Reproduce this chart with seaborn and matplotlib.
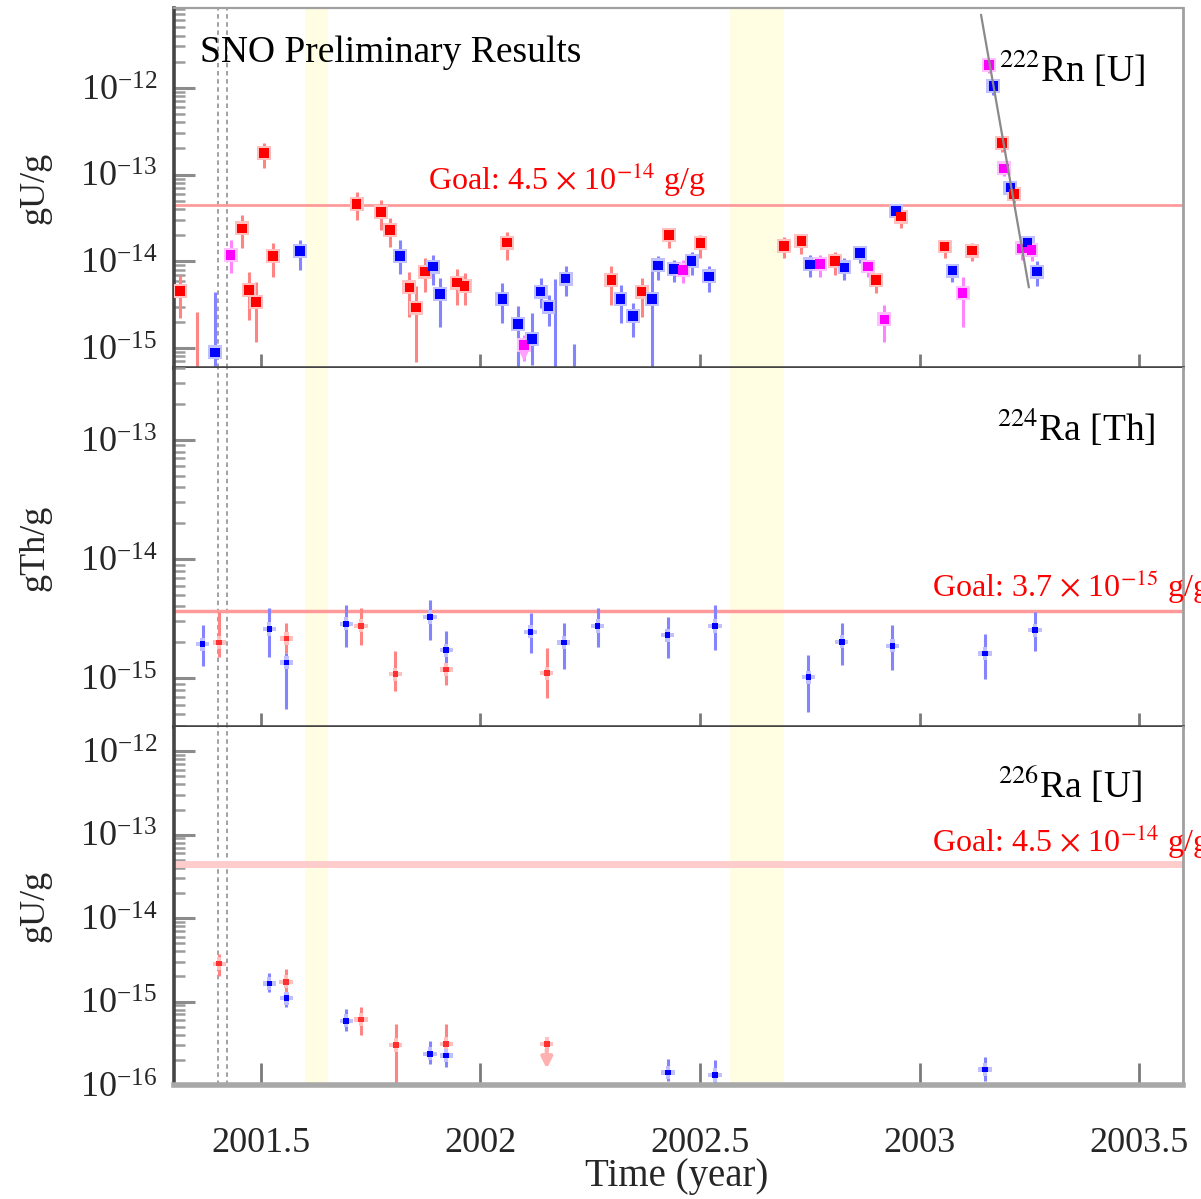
import numpy as np
import pandas as pd
import matplotlib
matplotlib.use("Agg")
import matplotlib.pyplot as plt
import seaborn as sns
from matplotlib.ticker import LogLocator, LogFormatterSciNotation, NullFormatter, FixedLocator

# ---------------- data ----------------
# 222Rn [U] panel
rn_year = [2001.316, 2001.354, 2001.395, 2001.431, 2001.457, 2001.473, 2001.489, 2001.507,
           2001.527, 2001.589, 2001.718, 2001.774, 2001.794, 2001.817, 2001.838, 2001.853,
           2001.873, 2001.892, 2001.908, 2001.947, 2001.964,
           2002.050, 2002.060, 2002.085, 2002.099, 2002.118, 2002.137, 2002.155, 2002.170,
           2002.194, 2002.213, 2002.298, 2002.319, 2002.347, 2002.367, 2002.390, 2002.404,
           2002.429, 2002.441, 2002.461, 2002.481, 2002.501, 2002.521,
           2002.691, 2002.731, 2002.751, 2002.773, 2002.808, 2002.829, 2002.864, 2002.883,
           2002.901, 2002.920, 2002.946, 2002.958, 2003.057, 2003.075, 2003.098, 2003.120,
           2003.158, 2003.168, 2003.188, 2003.193, 2003.207, 2003.215, 2003.233, 2003.246,
           2003.255, 2003.268]
rn_val = [4.58e-15, 3.0e-16, 8.91e-16, 1.18e-14, 2.40e-14, 4.68e-15, 3.42e-15, 1.76e-13,
          1.15e-14, 1.32e-14, 4.55e-14, 3.68e-14, 2.30e-14, 1.16e-14, 5.01e-15, 2.92e-15,
          7.60e-15, 8.67e-15, 4.20e-15, 5.68e-15, 5.19e-15,
          3.67e-15, 1.64e-14, 1.89e-15, 1.08e-15, 1.28e-15, 4.47e-15, 3.00e-15, 3.0e-16,
          6.31e-15, 3.0e-16, 6.10e-15, 3.67e-15, 2.34e-15, 4.47e-15, 3.67e-15, 8.99e-15,
          2.00e-14, 8.17e-15, 7.94e-15, 1.00e-14, 1.62e-14, 6.71e-15,
          1.51e-14, 1.72e-14, 9.23e-15, 9.33e-15, 1.00e-14, 8.51e-15, 1.24e-14, 8.71e-15,
          6.10e-15, 2.14e-15, 3.81e-14, 3.27e-14, 1.48e-14, 7.80e-15, 4.28e-15, 1.33e-14,
          1.84e-12, 1.05e-12, 2.30e-13, 1.18e-13, 7.08e-14, 5.93e-14, 1.41e-14, 1.64e-14,
          1.35e-14, 7.60e-15]
rn_lo = [2.24e-15, 3.0e-16, 3.0e-16, 7.41e-15, 1.41e-14, 2.09e-15, 1.18e-15, 1.19e-13,
         6.65e-15, 7.94e-15, 3.00e-14, 2.29e-14, 1.48e-14, 7.08e-15, 2.29e-15, 6.92e-16,
         4.47e-15, 5.37e-15, 1.76e-15, 3.16e-15, 3.16e-15,
         1.93e-15, 1.04e-14, 6.03e-16, 7.08e-16, 6.31e-16, 2.88e-15, 1.78e-15, 3.0e-16,
         3.98e-15, 3.0e-16, 3.16e-15, 1.95e-15, 1.35e-15, 2.29e-15, 6.03e-16, 6.10e-15,
         1.41e-14, 5.82e-15, 5.62e-15, 6.92e-15, 1.08e-14, 4.47e-15,
         1.08e-14, 1.23e-14, 6.61e-15, 6.61e-15, 6.92e-15, 6.10e-15, 9.55e-15, 6.65e-15,
         4.32e-15, 1.18e-15, 3.00e-14, 2.40e-14, 1.08e-14, 5.82e-15, 1.76e-15, 1.00e-14,
         1.48e-12, 8.32e-13, 1.84e-13, 9.55e-14, 6.03e-14, 4.68e-14, 1.04e-14, 1.35e-14,
         1.00e-14, 5.13e-15]
rn_hi = [6.92e-15, 2.60e-15, 4.40e-15, 1.78e-14, 3.39e-14, 7.59e-15, 5.82e-15, 2.30e-13,
         1.62e-14, 1.78e-14, 6.37e-14, 5.13e-14, 3.16e-14, 1.78e-14, 7.59e-15, 5.13e-15,
         1.08e-14, 1.17e-14, 6.37e-15, 8.13e-15, 7.41e-15,
         5.58e-15, 2.20e-14, 3.02e-15, 1.41e-15, 2.51e-15, 6.46e-15, 4.07e-15, 6.31e-15,
         8.91e-15, 1.11e-15, 8.91e-15, 5.37e-15, 3.31e-15, 6.46e-15, 7.94e-15, 1.15e-14,
         2.34e-14, 1.04e-14, 1.04e-14, 1.29e-14, 2.00e-14, 8.91e-15,
         1.93e-14, 2.00e-14, 1.17e-14, 1.17e-14, 1.29e-14, 1.10e-14, 1.48e-14, 1.04e-14,
         7.41e-15, 3.16e-15, 4.27e-14, 3.74e-14, 1.78e-14, 9.12e-15, 6.65e-15, 1.62e-14,
         2.10e-12, 1.24e-12, 2.63e-13, 1.35e-13, 8.13e-14, 6.97e-14, 1.78e-14, 1.91e-14,
         1.70e-14, 1.00e-14]
rn_kind = ["red", "red", "blue", "magenta", "red", "red", "red", "red",
           "red", "blue", "red", "red", "red", "blue", "red", "red",
           "red", "blue", "blue", "red", "red",
           "blue", "red", "blue", "magenta", "blue", "blue", "blue", "blue",
           "blue", "blue", "red", "blue", "blue", "red", "blue", "blue",
           "red", "blue", "magenta", "blue", "red", "blue",
           "red", "red", "blue", "magenta", "red", "blue", "blue", "magenta",
           "red", "magenta", "blue", "red", "red", "blue", "magenta", "red",
           "magenta", "blue", "red", "magenta", "blue", "red", "magenta", "blue",
           "magenta", "blue"]
rn_lim_year = [2002.099]
rn_lim_from = [1.0e-15]
rn_lim_to = [6.6e-16]
decay_year = [2003.140, 2003.249]
decay_val = [6.95e-12, 5.0e-15]

# 224Ra [Th] panel
ra224_year = [2001.367, 2001.405, 2001.519, 2001.558, 2001.558, 2001.694, 2001.728, 2001.806,
              2001.885, 2001.922, 2001.922, 2002.114, 2002.151, 2002.190, 2002.267, 2002.426,
              2002.534, 2002.747, 2002.823, 2002.938, 2003.149, 2003.263]
ra224_val = [1.93e-15, 2.00e-15, 2.59e-15, 2.15e-15, 1.35e-15, 2.86e-15, 2.75e-15, 1.08e-15,
             3.26e-15, 1.72e-15, 1.18e-15, 2.45e-15, 1.10e-15, 2.00e-15, 2.74e-15, 2.30e-15,
             2.74e-15, 1.02e-15, 2.02e-15, 1.87e-15, 1.61e-15, 2.53e-15]
ra224_lo = [1.26e-15, 1.51e-15, 1.51e-15, 1.62e-15, 5.56e-16, 1.83e-15, 1.91e-15, 7.82e-16,
            2.11e-15, 9.55e-16, 8.71e-16, 1.62e-15, 6.76e-16, 1.20e-15, 1.83e-15, 1.47e-15,
            1.72e-15, 5.21e-16, 1.29e-15, 1.17e-15, 9.77e-16, 1.70e-15]
ra224_hi = [2.79e-15, 3.61e-15, 3.85e-15, 2.88e-15, 1.62e-15, 4.10e-15, 3.85e-15, 1.70e-15,
            4.52e-15, 2.51e-15, 1.33e-15, 3.50e-15, 1.78e-15, 2.88e-15, 3.85e-15, 3.27e-15,
            4.10e-15, 1.58e-15, 2.88e-15, 2.79e-15, 2.34e-15, 3.61e-15]
ra224_kind = ["blue", "red", "blue", "red", "blue", "blue", "red", "red",
              "blue", "blue", "red", "blue", "red", "blue", "blue", "blue",
              "blue", "blue", "blue", "blue", "blue", "blue"]

# 226Ra [U] panel
ra226_year = [2001.405, 2001.519, 2001.557, 2001.558, 2001.694, 2001.728, 2001.807, 2001.885,
              2001.922, 2001.922, 2002.151, 2002.427, 2002.534, 2003.149]
ra226_val = [2.84e-15, 1.64e-15, 1.72e-15, 1.10e-15, 5.89e-16, 6.11e-16, 3.02e-16, 2.36e-16,
             3.10e-16, 2.25e-16, 3.10e-16, 1.41e-16, 1.32e-16, 1.53e-16]
ra226_lo = [2.03e-15, 1.31e-15, 1.28e-15, 8.71e-16, 4.47e-16, 3.98e-16, 1.0e-16, 1.78e-16,
            2.36e-16, 1.66e-16, 3.10e-16, 1.12e-16, 1.0e-16, 1.12e-16]
ra226_hi = [3.68e-15, 2.22e-15, 2.44e-15, 1.29e-15, 8.13e-16, 8.51e-16, 5.37e-16, 3.39e-16,
            5.37e-16, 2.88e-16, 3.60e-16, 2.04e-16, 2.00e-16, 2.19e-16]
ra226_kind = ["red", "blue", "red", "blue", "blue", "red", "red", "blue",
              "red", "blue", "red", "blue", "blue", "blue"]
ra226_lim_year = [2002.151]
ra226_lim_from = [2.9e-16]
ra226_lim_to = [1.45e-16]

goal_u = 4.5e-14
goal_th = 3.7e-15
special_lines = [2001.402, 2001.423]
bands = [(2001.600, 2001.653), (2002.568, 2002.691)]
x_ticks = [2001.5, 2002, 2002.5, 2003, 2003.5]
x_tick_labels = ["2001.5", "2002", "2002.5", "2003", "2003.5"]
rn_yticks = [1e-15, 1e-14, 1e-13, 1e-12]
ra224_yticks = [1e-15, 1e-14, 1e-13]
ra226_yticks = [1e-16, 1e-15, 1e-14, 1e-13, 1e-12]

# ---------------- style ----------------
sns.set_theme(style="ticks")
plt.rcParams['font.family'] = ['Liberation Serif', 'DejaVu Serif']
plt.rcParams['mathtext.fontset'] = 'stix'

mcol = {"red": "#ff0000", "blue": "#0000ff", "magenta": "#ff00ff"}
ecol = {"red": "#ff8484", "blue": "#8484ff", "magenta": "#ff84ff"}
hcol = {"red": "#ffc0c0", "blue": "#c0c0ff", "magenta": "#ffc0ff"}
mcol2 = {"red": "#ff3030", "blue": "#0000ff", "magenta": "#ff00ff"}

fig = plt.figure(figsize=(12.01, 11.99), dpi=100)
L, W = 174 / 1201, (1183 - 174) / 1201
def frac(top_px, bot_px):
    return [L, 1 - bot_px / 1199, W, (bot_px - top_px) / 1199]
ax1 = fig.add_axes(frac(8, 368))
ax2 = fig.add_axes(frac(368, 727), sharex=ax1)
ax3 = fig.add_axes(frac(727, 1085), sharex=ax1)
axes = [ax1, ax2, ax3]

for ax in axes:
    ax.set_yscale('log')
    ax.set_facecolor('white')
    for x0, x1 in bands:
        ax.axvspan(x0, x1, color='#fffde2', zorder=0, lw=0)
    for xv in special_lines:
        ax.axvline(xv, color='#9a9a9a', ls=(0, (2.5, 2)), lw=1.3, zorder=1)


def draw_panel(ax, years, vals, lo, hi, kind, big=True):
    df = pd.DataFrame({"year": years, "val": vals, "lo": lo, "hi": hi, "kind": kind})
    ax.vlines(df["year"], df["lo"], df["hi"], colors=[ecol[k] for k in df["kind"]],
              lw=2.2, zorder=2)
    if big:
        sns.scatterplot(data=df, x="year", y="val", hue="kind", palette=hcol, marker='s',
                        s=100, linewidth=0, legend=False, ax=ax, zorder=3)
        sns.scatterplot(data=df, x="year", y="val", hue="kind", palette=mcol, marker='s',
                        s=48, linewidth=0, legend=False, ax=ax, zorder=4)
    else:
        sns.scatterplot(data=df, x="year", y="val", hue="kind", palette=hcol, marker='P',
                        s=90, linewidth=0, legend=False, ax=ax, zorder=3)
        sns.scatterplot(data=df, x="year", y="val", hue="kind", palette=mcol2, marker='s',
                        s=16, linewidth=0, legend=False, ax=ax, zorder=4)


draw_panel(ax1, rn_year, rn_val, rn_lo, rn_hi, rn_kind, big=True)
draw_panel(ax2, ra224_year, ra224_val, ra224_lo, ra224_hi, ra224_kind, big=False)
draw_panel(ax3, ra226_year, ra226_val, ra226_lo, ra226_hi, ra226_kind, big=False)

sns.lineplot(x=decay_year, y=decay_val, ax=ax1, color='#8a8a8a', lw=1.6, zorder=5)

for x, f, t in zip(rn_lim_year, rn_lim_from, rn_lim_to):
    ax1.annotate('', xy=(x, t), xytext=(x, f),
                 arrowprops=dict(arrowstyle='-|>', color='#ffa0ff', lw=1.5, mutation_scale=14),
                 zorder=3)
for x, f, t in zip(ra226_lim_year, ra226_lim_from, ra226_lim_to):
    ax3.annotate('', xy=(x, t), xytext=(x, f),
                 arrowprops=dict(arrowstyle='-|>', color='#ffb0b0', lw=3, mutation_scale=16),
                 zorder=3)

ax1.axhline(goal_u, color='#ff9a9a', lw=2, zorder=1.5)
ax2.axhline(goal_th, color='#ff9a9a', lw=2.5, zorder=1.5)
ax3.axhline(goal_u, color='#ffcccc', lw=5, zorder=1.5)

ax1.set_xlim(2001.302, 2003.600)
ax1.set_ylim(10 ** -15.23, 10 ** -11.08)
ax2.set_ylim(10 ** -15.41, 10 ** -12.395)
ax3.set_ylim(1e-16, 10 ** -11.71)

ylabels = ["gU/g", "gTh/g", "gU/g"]
yticks = [rn_yticks, ra224_yticks, ra226_yticks]
for ax, lab, yt in zip(axes, ylabels, yticks):
    ax.yaxis.set_major_locator(FixedLocator(yt))
    ax.yaxis.set_minor_locator(LogLocator(base=10, subs=np.arange(2, 10), numticks=40))
    ax.yaxis.set_major_formatter(LogFormatterSciNotation())
    ax.yaxis.set_minor_formatter(NullFormatter())
    ax.xaxis.set_major_locator(FixedLocator(x_ticks))
    ax.tick_params(axis='y', which='major', direction='in', length=15, width=2.2,
                   color='#8c8c8c', labelsize=26, pad=12, left=True, right=False)
    ax.tick_params(axis='y', which='minor', direction='in', length=8, width=1.8,
                   color='#9c9c9c', left=True, right=False)
    ax.tick_params(axis='x', which='major', direction='in', length=10, width=2,
                   color='#7a7a7a', labelsize=26, pad=30, bottom=True, top=False)
    ax.tick_params(axis='x', which='minor', bottom=False, top=False)
    ax.set_ylabel(lab, fontsize=26)
    ax.yaxis.set_label_coords(-0.138, 0.5)
    ax.yaxis.label.set_va('center')
    ax.set_xlabel('')
    ax.spines['left'].set_color('#454545')
    ax.spines['left'].set_linewidth(2.6)
    ax.spines['bottom'].set_color('#454545')
    ax.spines['bottom'].set_linewidth(2.6)
    ax.spines['right'].set_color('#a0a0a0')
    ax.spines['right'].set_linewidth(2)
    ax.spines['top'].set_color('#a0a0a0')
    ax.spines['top'].set_linewidth(1.6)

ax2.spines['top'].set_visible(False)
ax3.spines['top'].set_visible(False)
ax3.spines['bottom'].set_color('#a8a8a8')
ax3.spines['bottom'].set_linewidth(4)
ax3.tick_params(axis='x', which='major', length=16)
ax1.tick_params(axis='x', labelbottom=False)
ax2.tick_params(axis='x', labelbottom=False)
ax3.set_xticklabels(x_tick_labels)
ax3.set_xlabel('Time (year)', fontsize=28)
ax3.xaxis.set_label_coords(0.498, -0.205)
ax3.xaxis.label.set_va('top')

# texts
ax1.text(0.026, 0.85, 'SNO Preliminary Results', transform=ax1.transAxes,
         fontsize=27, ha='left', va='baseline', color='black')
ax1.text(0.962, 0.794, r'$^{222}$Rn [U]', transform=ax1.transAxes,
         fontsize=27, ha='right', va='baseline', color='black')
ax2.text(0.973, 0.797, r'$^{224}$Ra [Th]', transform=ax2.transAxes,
         fontsize=27, ha='right', va='baseline', color='black')
ax3.text(0.959, 0.802, r'$^{226}$Ra [U]', transform=ax3.transAxes,
         fontsize=27, ha='right', va='baseline', color='black')
ax1.text(0.252, 0.494, r'Goal: 4.5 $\times$ 10$^{-14}$ g/g', transform=ax1.transAxes,
         fontsize=23, ha='left', va='baseline', color='#ff0000')
ax2.text(0.751, 0.362, r'Goal: 3.7 $\times$ 10$^{-15}$ g/g', transform=ax2.transAxes,
         fontsize=23, ha='left', va='baseline', color='#ff0000', clip_on=False)
ax3.text(0.751, 0.651, r'Goal: 4.5 $\times$ 10$^{-14}$ g/g', transform=ax3.transAxes,
         fontsize=23, ha='left', va='baseline', color='#ff0000', clip_on=False)

fig.savefig('out.png', dpi=100)
